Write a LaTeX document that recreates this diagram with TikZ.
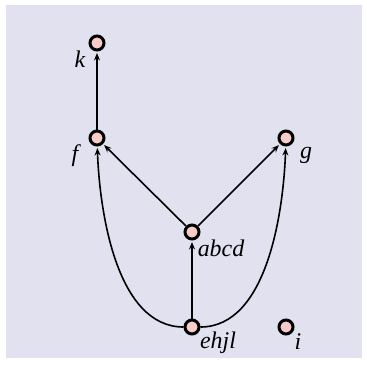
\documentclass[tikz,border=0pt]{standalone}
\usepackage{fontspec}
\setmainfont{Liberation Serif}
\usetikzlibrary{arrows.meta}
\definecolor{bgc}{HTML}{E1E1F0}
\definecolor{nodefill}{HTML}{F9CACA}
\begin{document}
\begin{tikzpicture}[x=1bp,y=-1bp,
  vtx/.style={circle,draw=black,fill=nodefill,line width=3bp,minimum size=14bp,inner sep=0pt},
  lbl/.style={font=\fontsize{24}{24}\selectfont\itshape,inner sep=0pt},
  edge/.style={-{Stealth[length=7.5bp,width=6bp,inset=2.5bp]},line width=1.6bp,shorten >=1.5bp}]
\useasboundingbox (0,0) rectangle (367,367);
\fill[bgc] (6,5) rectangle (362,358);
\node[vtx] (k) at (97,43) {};
\node[vtx] (f) at (97,138) {};
\node[vtx] (g) at (286,138) {};
\node[vtx] (abcd) at (192,232) {};
\node[vtx] (ehjl) at (192,327) {};
\node[vtx] (i) at (286,327) {};
\node[lbl] (lk) at (80,59) {k};
\node[lbl] (lf) at (75,156) {f};
\node[lbl] (lg) at (306,155) {g};
\node[lbl] (labcd) at (221,248) {abcd};
\node[lbl] (lehjl) at (218,343) {ehjl};
\node[lbl] (li) at (298,342) {i};
\draw[edge] (f) -- (k);
\draw[edge] (abcd) -- (f);
\draw[edge] (abcd) -- (g);
\draw[edge] (ehjl) -- (abcd);
\draw[edge] (ehjl) to[out=180,in=-88,looseness=0.85] (f);
\draw[edge] (ehjl) to[out=0,in=-92,looseness=0.85] (g);
\end{tikzpicture}
\end{document}
